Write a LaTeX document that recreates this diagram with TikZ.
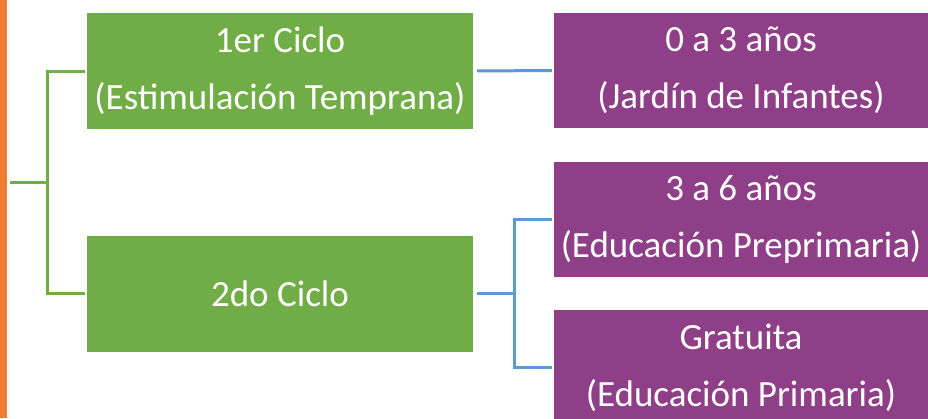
\documentclass[tikz,border=0pt]{standalone}
\usepackage{fontspec}
\setmainfont{Carlito}
\definecolor{gfill}{RGB}{112,173,71}
\definecolor{pfill}{RGB}{143,63,135}
\definecolor{oran}{RGB}{237,125,49}
\definecolor{bline}{RGB}{91,155,213}
\begin{document}
\begin{tikzpicture}[x=1pt,y=-1pt,
  box/.style={rectangle,inner sep=0pt,text=white,align=center,
    font=\fontsize{37}{57}\selectfont},
  gbox/.style={box,fill=gfill,minimum width=386pt,minimum height=116pt},
  pbox/.style={box,fill=pfill,minimum width=374pt,minimum height=115pt},
  gcon/.style={draw=gfill,line width=3pt},
  bcon/.style={draw=bline,line width=3pt}]
\useasboundingbox (0,0) rectangle (928,418);
\begin{scope}
\clip (0,0) rectangle (928,418);
\fill[white] (0,0) rectangle (928,418);
\fill[oran] (0,0) rectangle (7,418);
\node[gbox] (g1) at (280,71) {1er Ciclo\\(Estimulación Temprana)};
\node[gbox] (g2) at (280,293.5) {2do Ciclo};
\node[pbox] (p1) at (741,70.5) {0 a 3 años\\(Jardín de Infantes)};
\node[pbox] (p2) at (741,219.5) {3 a 6 años\\(Educación Preprimaria)};
\node[pbox] (p3) at (741,367.5) {Gratuita\\(Educación Primaria)};
\coordinate (root) at (10,182);
\draw[gcon] (root) -- (47,182);
\draw[gcon,shorten >=2pt] (47,182) |- (g1.west);
\draw[gcon,shorten >=2pt] (47,182) |- (g2.west);
\draw[bcon,shorten <=4pt,shorten >=2pt] (g1.east) -- (p1.west);
\draw[bcon,shorten <=4pt] (g2.east) -- (514,293.5);
\draw[bcon,shorten >=2pt] (514,293.5) |- (p2.west);
\draw[bcon,shorten >=2pt] (514,293.5) |- (p3.west);
\end{scope}
\end{tikzpicture}
\end{document}
